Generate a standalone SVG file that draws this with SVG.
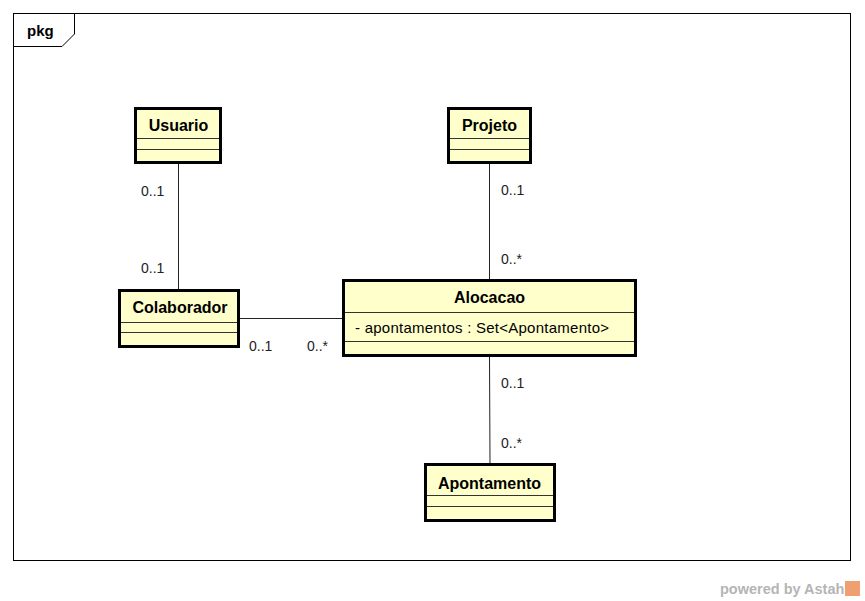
<svg xmlns="http://www.w3.org/2000/svg" width="865" height="601" viewBox="0 0 865 601">
<style>
.box{fill:#FFFFCC;stroke:#000;stroke-width:3}
.div{stroke:#333;stroke-width:1}
.title{font-family:"Liberation Sans",Arial,sans-serif;font-weight:bold;font-size:16px;fill:#000;text-anchor:middle}
.attr{font-family:"Liberation Sans",Arial,sans-serif;font-size:15px;fill:#000}
.mult{font-family:"Liberation Sans",Arial,sans-serif;font-size:14px;fill:#222}
.conn line{stroke:#222;stroke-width:1}
</style>
<rect width="865" height="601" fill="#fff"/>
<g id="frame">
<rect x="13.5" y="13.5" width="837" height="547" fill="none" stroke="#000" stroke-width="1"/>
<path d="M13.5,46.5 H62 L74.5,34 V13.5" fill="none" stroke="#000" stroke-width="1"/>
<text x="27" y="36" font-family="'Liberation Sans',Arial,sans-serif" font-weight="bold" font-size="15px" fill="#000">pkg</text>
</g>
<g id="connectors" class="conn">
<line x1="178.5" y1="164" x2="178.5" y2="289"/>
<line x1="489.5" y1="164" x2="489.5" y2="279"/>
<line x1="240" y1="318.5" x2="342" y2="318.5"/>
<line x1="489.5" y1="357" x2="490" y2="463"/>
<text class="mult" x="141" y="196">0..1</text>
<text class="mult" x="141" y="273">0..1</text>
<text class="mult" x="501" y="195">0..1</text>
<text class="mult" x="501" y="264">0..*</text>
<text class="mult" x="249" y="351">0..1</text>
<text class="mult" x="307" y="351">0..*</text>
<text class="mult" x="501" y="388">0..1</text>
<text class="mult" x="501" y="448">0..*</text>
</g>
<g id="Usuario">
<rect class="box" x="135.5" y="108.5" width="85" height="54"/>
<line class="div" x1="137" y1="138.5" x2="219" y2="138.5"/>
<line class="div" x1="137" y1="149.5" x2="219" y2="149.5"/>
<text class="title" x="178.5" y="131">Usuario</text>
</g>
<g id="Projeto">
<rect class="box" x="448.5" y="108.5" width="82" height="54"/>
<line class="div" x1="450" y1="138.5" x2="529" y2="138.5"/>
<line class="div" x1="450" y1="149.5" x2="529" y2="149.5"/>
<text class="title" x="489.5" y="131">Projeto</text>
</g>
<g id="Colaborador">
<rect class="box" x="119.5" y="290.5" width="119" height="56"/>
<line class="div" x1="121" y1="322.5" x2="237" y2="322.5"/>
<line class="div" x1="121" y1="332.5" x2="237" y2="332.5"/>
<text class="title" x="180" y="313">Colaborador</text>
</g>
<g id="Alocacao">
<rect class="box" x="343.5" y="280.5" width="292" height="75"/>
<line class="div" x1="345" y1="312.5" x2="634" y2="312.5"/>
<line class="div" x1="345" y1="341.5" x2="634" y2="341.5"/>
<text class="title" x="489.5" y="303">Alocacao</text>
<text class="attr" x="355" y="333" textLength="254" lengthAdjust="spacing">- apontamentos : Set&lt;Apontamento&gt;</text>
</g>
<g id="Apontamento">
<rect class="box" x="425.5" y="464.5" width="129" height="56"/>
<line class="div" x1="427" y1="495.5" x2="553" y2="495.5"/>
<line class="div" x1="427" y1="506.5" x2="553" y2="506.5"/>
<text class="title" x="489.5" y="489">Apontamento</text>
</g>
<g id="watermark">
<text x="720" y="594" font-family="'Liberation Sans',Arial,sans-serif" font-weight="bold" font-size="14.5px" fill="#b5b5b5">powered by Astah</text>
<rect x="845" y="581" width="15" height="15" fill="#f0a070"/>
</g>
</svg>
